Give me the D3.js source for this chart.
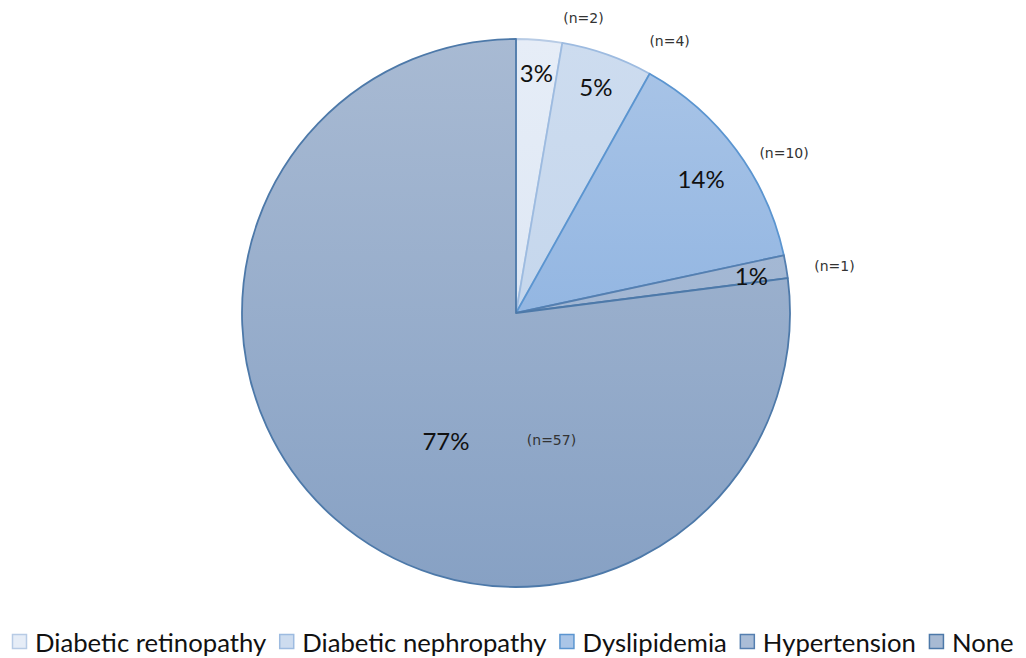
<!DOCTYPE html>
<html>
<head>
<meta charset="utf-8">
<script src="https://cdn.jsdelivr.net/npm/d3@7"></script>
<style>
  html, body { margin: 0; padding: 0; background: #fff; }
  svg { display: block; }
</style>
</head>
<body>
<svg id="chart" width="1026" height="658"></svg>
<script>
// Complications among the 74 patients
const categories = ["Diabetic retinopathy", "Diabetic nephropathy", "Dyslipidemia", "Hypertension", "None"];
const counts = [2, 4, 10, 1, 57];
const percentLabels = ["3%", "5%", "14%", "1%", "77%"];
const countLabels = ["(n=2)", "(n=4)", "(n=10)", "(n=1)", "(n=57)"];

// Slice styling: gradient top/bottom and outline colour
const fillTop    = ["#e6edf7", "#cddcef", "#aac5e7", "#aabdd7", "#a8bad3"];
const fillBottom = ["#d6e2f2", "#bdd1ea", "#7da8dd", "#9ab0cf", "#87a1c4"];
const strokes    = ["#b7cbe5", "#9dbbe0", "#5b95d0", "#557fb0", "#4d79a9"];

// Label placement (radius as a fraction of the pie radius, angle offset in degrees from slice mid)
const pctPlace = [[0.88, 0], [0.875, 0], [0.835, 0.5], [0.87, 0.6], [0.53, -12.5]];
const cntPlace = [[1.105, 8], [1.14, 10], [1.14, 5.6], [1.175, 1.3], [0.48, -57]];

const svg = d3.select("#chart");
const cx = 516, cy = 313, R = 274;

const data = categories.map((c, i) => ({ name: c, value: counts[i], i }));
const pie = d3.pie().value(d => d.value).sort(null).startAngle(0).endAngle(2 * Math.PI);
const arcs = pie(data);
const arc = d3.arc().innerRadius(0).outerRadius(R);

// Vertical gradients span the whole pie, in the pie group's local coordinates
const defs = svg.append("defs");
data.forEach((d, i) => {
  const g = defs.append("linearGradient")
    .attr("id", "grad" + i)
    .attr("gradientUnits", "userSpaceOnUse")
    .attr("x1", 0).attr("x2", 0)
    .attr("y1", -R).attr("y2", R);
  g.append("stop").attr("offset", "0%").attr("stop-color", fillTop[i]);
  g.append("stop").attr("offset", "100%").attr("stop-color", fillBottom[i]);
});

const g = svg.append("g").attr("transform", `translate(${cx},${cy})`);

g.selectAll("path.slice")
  .data(arcs)
  .join("path")
  .attr("class", "slice")
  .attr("d", arc)
  .attr("fill", d => `url(#grad${d.data.i})`)
  .attr("stroke", d => strokes[d.data.i])
  .attr("stroke-width", 1.8)
  .attr("stroke-linejoin", "round");

function polar(d, place) {
  const mid = (d.startAngle + d.endAngle) / 2 + place[1] * Math.PI / 180;
  const r = place[0] * R;
  return [r * Math.sin(mid), -r * Math.cos(mid)];
}

g.selectAll("text.pct")
  .data(arcs)
  .join("text")
  .attr("class", "pct")
  .attr("transform", d => `translate(${polar(d, pctPlace[d.data.i])})`)
  .attr("text-anchor", "middle")
  .attr("dominant-baseline", "central")
  .attr("font-family", "Lato, 'Open Sans', sans-serif")
  .attr("font-size", 24)
  .attr("fill", "#111")
  .text(d => percentLabels[d.data.i]);

g.selectAll("text.cnt")
  .data(arcs)
  .join("text")
  .attr("class", "cnt")
  .attr("transform", d => `translate(${polar(d, cntPlace[d.data.i])})`)
  .attr("text-anchor", "middle")
  .attr("dominant-baseline", "central")
  .attr("font-family", "'DejaVu Sans', sans-serif")
  .attr("font-size", 14)
  .attr("fill", "#333")
  .text(d => countLabels[d.data.i]);

// Legend, laid out left to right along the bottom
const legend = svg.append("g").attr("transform", "translate(12,642)");
let x = 0;
data.forEach((d, i) => {
  const item = legend.append("g").attr("transform", `translate(${x},0)`);
  item.append("rect")
    .attr("x", 0.5).attr("y", -7.5)
    .attr("width", 14).attr("height", 14)
    .attr("fill", fillTop[i])
    .attr("stroke", strokes[i])
    .attr("stroke-width", 1.5);
  const t = item.append("text")
    .attr("x", 23).attr("y", 0)
    .attr("dominant-baseline", "central")
    .attr("font-family", "Lato, 'Open Sans', sans-serif")
    .attr("font-size", 25.7)
    .attr("fill", "#111")
    .text(d.name);
  x += 23 + t.node().getComputedTextLength() + 13;
});
</script>
</body>
</html>
